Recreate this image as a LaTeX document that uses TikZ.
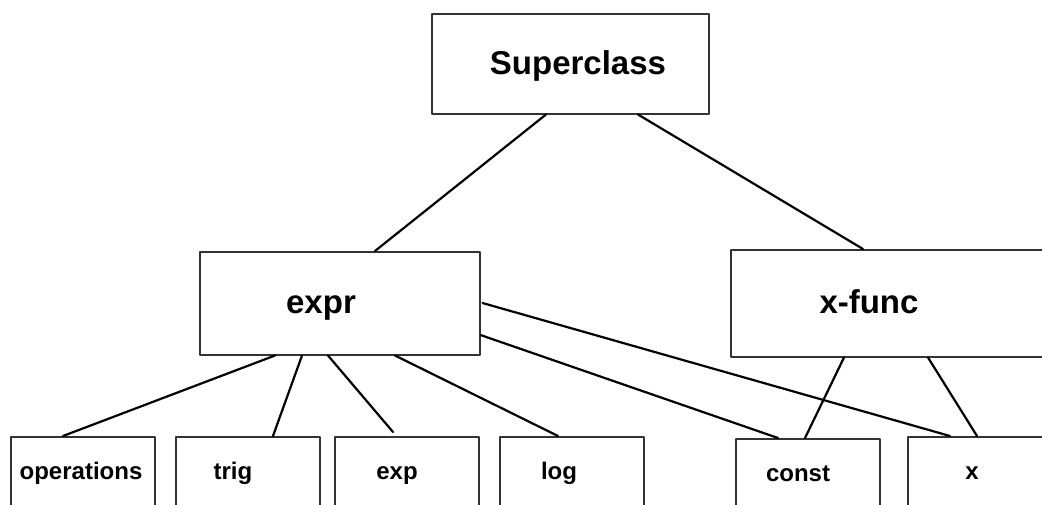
\documentclass[tikz,border=0pt]{standalone}
\usepackage{fontspec}
\setmainfont{Liberation Sans}
\usetikzlibrary{calc,positioning}

\begin{document}
\begin{tikzpicture}[line cap=round,line join=round,x=1pt,y=-1pt]
\tikzset{box/.style={draw=black!80, line width=1.5pt, rectangle, anchor=north west, inner sep=0pt}}
\tikzset{link/.style={draw=black, line width=2.2pt}}
\tikzset{biglbl/.style={font=\fontsize{33}{36}\selectfont\bfseries, anchor=base}}
\tikzset{smalllbl/.style={font=\fontsize{24}{26}\selectfont\bfseries, anchor=base}}
\def\bw{144};
\def\bh{120};

\clip (0,0) rectangle (1042,504);

% top and middle boxes
\node[box, minimum width=277, minimum height=100] (sup) at (431,13) {};
\node[box, minimum width=280, minimum height=103] (expr) at (199,251) {};
\node[box, minimum width=330, minimum height=107] (xfunc) at (730,249) {};

\node[biglbl] (sup-t) at (578,74) {Superclass};
\node[biglbl] (expr-t) at (321,313) {expr};
\node[biglbl] (xfunc-t) at (869,313) {x-func};

% bottom boxes
\foreach \name/\xx/\yy in {ops/10/436, trig/175/436, exp/334/436, log/499/436, const/735/438, xvar/907/436}{
    \node[box, minimum width=\bw, minimum height=\bh] (\name) at (\xx,\yy) {};
}

\foreach \name/\xx/\yy/\txt in {ops/81/479/operations, trig/233/479/trig, exp/397/479/exp, log/559/479/log, const/798/481/const, xvar/972/479/x}{
    \node[smalllbl] (\name-t) at (\xx,\yy) {\txt};
}

% links
\draw[link] ($(sup.south west)+(115,0)$) -- ($(expr.north west)+(176,0)$);
\draw[link] ($(sup.south west)+(207,0)$) -- ($(xfunc.north west)+(133,0)$);

\draw[link] ($(expr.south west)+(76,0)$) -- ($(ops.north west)+(53,0)$);
\draw[link] ($(expr.south west)+(103,0)$) -- ($(trig.north west)+(98,0)$);
\draw[link] ($(expr.south west)+(129,0)$) -- ($(exp.north west)+(59,-4)$);
\draw[link] ($(expr.south west)+(196,0)$) -- ($(log.north west)+(59,0)$);
\draw[link] ($(expr.north east)+(0,84)$) -- ($(const.north west)+(43,0)$);
\draw[link] ($(expr.north east)+(2,52)$) -- ($(xvar.north west)+(43,0)$);

\draw[link] ($(xfunc.south west)+(114,0)$) -- ($(const.north west)+(70,0)$);
\draw[link] ($(xfunc.south west)+(198,0)$) -- ($(xvar.north west)+(70,0)$);

\end{tikzpicture}
\end{document}
